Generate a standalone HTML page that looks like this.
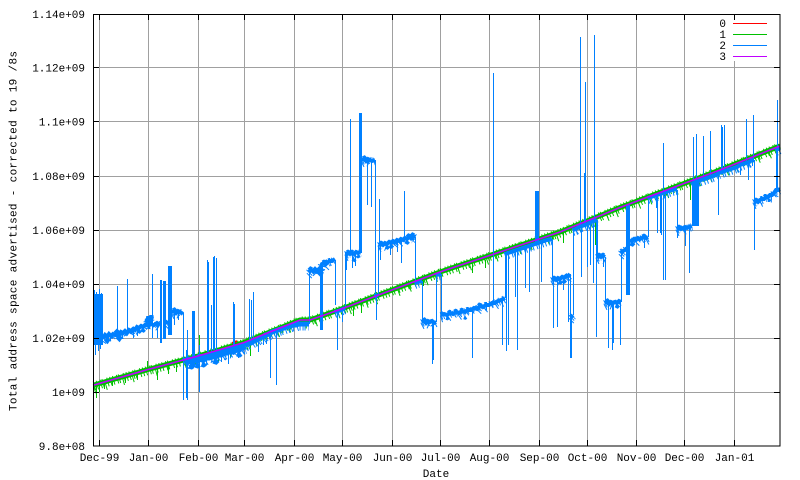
<!DOCTYPE html>
<html><head><meta charset="utf-8"><style>
html,body{margin:0;padding:0;background:#fff;}
svg{display:block;}
text{font-family:"Liberation Mono","DejaVu Sans Mono",monospace;font-size:11px;fill:#000;}
</style></head><body>
<svg width="800" height="480" viewBox="0 0 800 480" xmlns="http://www.w3.org/2000/svg">
<defs>
<path id="tr" d="M94,385 L100,383.3 L110,380.4 L120,377.5 L130,374.7 L140,371.8 L148,369.5 L160,366.3 L170,363.6 L180,360.9 L190,358.2 L198,356 L210,352.5 L220,349.6 L230,346.6 L244,342.5 L250,340.1 L260,336 L270,332 L280,328 L290,324 L300,320 L310,320 L320,316.5 L330,313 L340,309.5 L350,305.75 L360,302 L370,298.25 L380,294.5 L390,290.75 L400,287 L410,283.25 L420,279.5 L430,275.75 L440,272 L460,265.3 L480,258.7 L500,252 L520,245.3 L540,238.7 L560,232 L570,227.9 L580,223.8 L590,219.8 L600,215.7 L610,211.6 L620,207.5 L630,203.75 L640,200 L650,196.25 L660,192.5 L670,188.75 L680,185 L690,181.25 L700,177.5 L710,173.75 L720,170 L730,166 L740,162 L750,158 L760,154 L770,150 L780,146"/>
<path id="bA1" d="M185,362 L188,360 L191,361 L194,359 L197,360 L200,358 L203,359 L206,357 L209,357 L212,355 L215,356 L218,353 L221,354 L224,352 L227,352 L230,350 L233,351 L236,348 L239,349 L242,347 L245,346"/>
<path id="bA2" d="M245,346 L248,343 L251,343 L254,341 L257,340 L260,338 L263,337 L266,335 L269,334 L272,332 L275,331 L278,330 L281,329 L284,328 L287,327 L290,326 L293,325 L296,325 L299,324 L302,324 L305,324 L309,324"/>
<path id="bT" d="M335,312 L338,311 L341,310 L345,308 M375,296 L378,295 M415,283 L418,282 L422,281 M436,275 L441,274 M505,254 L508,253 L511,252 L514,251 L517,250 L520,249 L523,248 L526,247 L529,246 L532,245 L535,244 L538,243 L541,242 L544,241 L547,240 L552,239 M573,230 L576,229 L579,227 L582,226 L585,225 L588,224 L591,222 L594,221 L597,220 M648,198 L651,197 L654,196 L657,195 L660,194 L663,193 L666,192 L669,191 L672,190 L677,189 M692,184 L695,182 L698,181 L701,180 L704,179 L707,178 L710,177 L713,176 L716,175 L719,173 L722,172 L725,171 L728,170 L731,169 L734,168 L737,167 L740,165 L743,164 L746,163 L749,162 L752,160 L754,160 M776,150 L780,148"/>
<path id="bB" d="M103,338 L105,335 L107,337 L109,334 L111,336 L113,334 L115,335 L117,333 L119,335 L121,332 L123,333 L125,331 L127,333 L129,330 L131,331 L133,329 L135,330 L137,327 L139,328 L141,326 L143,327 L145,325 L147,325 L148,318 L150,318 L151,324 L154,325 L157,323 L160,325 M166,323 L168,321 M172,312 L174,311 L176,313 L178,311 L180,312 L183,314 M309,272 L311,270 L313,271 L315,269 L317,271 L319,269 L320,270 L322,264 L324,263 L326,264 L328,262 L330,261 L332,261 L335,259 M346,254 L348,253 L350,254 L352,253 L354,254 L356,252 L358,253 L360,252 M362,160 L364,159 L366,161 L368,159 L370,160 L372,161 L375,160 M379,245 L381,244 L383,245 L385,243 L387,244 L389,242 L391,243 L393,241 L395,242 L397,240 L399,241 L401,239 L403,240 L405,238 L407,239 L409,237 L411,238 L413,236 L415,237 M422,322 L424,321 L426,323 L428,321 L430,322 L432,321 L434,323 L436,322 M441,315 L444,314 L447,315 L450,313 L453,314 L456,312 L459,313 L462,311 L465,312 L468,310 L471,310 L474,308 L477,309 L480,306 L483,307 L486,305 L489,305 L492,303 L495,303 L498,301 L501,300 L505,298 M552,280 L554,279 L556,280 L558,278 L560,279 L562,277 L564,278 L566,276 L568,276 L570,274 M571,317 L573,315 M597,257 L599,256 L601,257 L603,256 L605,257 M605,303 L607,302 L609,304 L611,302 L613,303 L615,302 L617,303 L619,301 L621,302 M621,253 L623,251 L625,250 L627,248 M630,240 L632,241 L634,239 L636,240 L638,238 L640,239 L642,238 L644,237 L646,238 L648,237 M677,229 L679,228 L681,229 L683,228 L685,227 L687,228 L689,227 L692,226 M754,202 L756,201 L758,202 L760,200 L762,199 L764,199 L766,197 L768,197 L770,195 L772,195 L774,193 L776,190 L778,190 L780,189"/>
</defs>
<rect x="0" y="0" width="800" height="480" fill="#fff"/>
<!-- grid -->
<g stroke="#a0a0a0" stroke-width="1" shape-rendering="crispEdges" fill="none">
<path d="M93,67.5H780 M93,121.5H780 M93,176.5H780 M93,230.5H780 M93,284.5H780 M93,338.5H780 M93,392.5H780"/>
<path d="M99.5,14V446 M148.5,14V446 M198.5,14V446 M244.5,14V446 M294.5,14V446 M342.5,14V446 M392.5,14V446 M440.5,14V446 M489.5,14V446 M539.5,14V446 M587.5,14V446 M636.5,14V446 M684.5,14V446 M734.5,14V446"/>
</g>
<!-- green -->
<use href="#tr" fill="none" stroke="#00c000" stroke-width="5"/>
<use href="#tr" transform="translate(0,1)" fill="none" stroke="#00c000" stroke-width="9" stroke-dasharray="1 2 1 3 1 1 1 4 1 2"/>
<use href="#tr" transform="translate(0,4)" fill="none" stroke="#00c000" stroke-width="9" stroke-dasharray="1 11 1 17 1 9 1 23"/>
<path fill="none" stroke="#00c000" stroke-width="1" shape-rendering="crispEdges" d="M96.5,386V398 M99.5,385V392 M104.5,383V389 M112.5,381V386 M125.5,378V383 M137.5,374V380 M147.5,369V361 M157.5,369V380 M168.5,366V374 M176.5,363V372 M190.5,361V367 M199.5,355V335 M218.5,352V362 M230.5,349V358 M250.5,342V356 M320.5,318V330 M353.5,307V316 M361.5,304V313 M423.5,281V286 M472.5,264V273 M485.5,260V268 M552.5,237V262 M563.5,233V243 M595.5,222V245 M596.5,222V240 M661.5,194V200 M690.5,183V200"/>
<path fill="none" stroke="#ff0000" stroke-width="2" d="M232,343 L237,341"/>
<!-- blue on-trend -->
<g fill="none" stroke="#0080ff">
<use href="#bA1" stroke-width="7"/>
<use href="#bA1" transform="translate(0,2)" stroke-width="12" stroke-dasharray="1 1 1 3 1 2 1 1"/>
<use href="#bA2" stroke-width="5"/>
<use href="#bA2" transform="translate(0,2)" stroke-width="9" stroke-dasharray="1 2 1 1 1 3 1 2"/>
<use href="#bT" stroke-width="4"/>
<use href="#bT" transform="translate(0,2)" stroke-width="8" stroke-dasharray="1 2 1 3 1 1 1 3"/>
<use href="#bB" stroke-width="4"/>
<use href="#bB" transform="translate(0,1)" stroke-width="8" stroke-dasharray="1 1 1 3 1 2 1 4"/>
<use href="#bB" transform="translate(0,4)" stroke-width="7" stroke-dasharray="1 7 1 11 1 5 1 15"/>
</g>
<!-- blue blocks -->
<g fill="#0080ff" shape-rendering="crispEdges">
<rect x="94" y="294" width="9" height="51"/>
<rect x="160" y="280" width="2" height="63"/>
<rect x="163" y="281" width="3" height="58"/>
<rect x="168" y="266" width="4" height="69"/>
<rect x="192" y="311" width="3" height="56"/>
<rect x="320" y="264" width="3" height="66"/>
<rect x="359" y="113" width="3" height="140"/>
<rect x="535" y="191" width="4" height="53"/>
<rect x="626" y="205" width="4" height="90"/>
<rect x="693" y="180" width="6" height="46"/>
</g>
<!-- blue spikes -->
<path fill="none" stroke="#0080ff" stroke-width="1" shape-rendering="crispEdges" d="M94.5,290V296 M96.5,292V296 M99.5,289V296 M101.5,293V296 M95.5,345V355 M98.5,345V351 M100.5,345V349
M110.5,336V341 M117.5,334V286 M119.5,335V341 M127.5,333V279 M133.5,329V338 M137.5,328V336 M122.5,332V339 M108.5,336V342
M147.5,325V316 M152.5,324V274 M152.5,324V338 M157.5,323V338
M174.5,312V325 M178.5,312V320 M183.5,313V400 M187.5,330V400 M186.5,350V398
M199.5,345V392 M203.5,358V366 M221.5,354V362 M228.5,352V364 M238.5,348V358
M207.5,352V260 M208.5,352V262 M211.5,352V305 M213.5,350V257 M214.5,350V256 M216.5,350V258
M233.5,348V302 M234.5,348V304 M249.5,344V299 M251.5,343V300 M253.5,342V292
M258.5,340V352 M263.5,337V345 M266.5,335V344 M270.5,333V378 M276.5,331V385
M309.5,324V271 M335.5,260V305 M337.5,311V350 M342.5,310V322
M345.5,308V253 M346.5,254V270 M352.5,254V268 M355.5,253V266 M350.5,254V119
M367.5,160V205 M371.5,161V207 M375.5,160V294 M376.5,295V320 M378.5,295V245 M379.5,245V199 M380.5,245V260
M390.5,243V255 M397.5,241V252 M401.5,240V263 M404.5,239V191
M415.5,237V283 M422.5,281V322 M432.5,321V364 M433.5,322V360 M436.5,322V274 M441.5,274V315
M472.5,309V358 M493.5,303V73 M502.5,300V345 M505.5,298V254 M506.5,253V351 M508.5,253V345
M515.5,251V297 M517.5,250V350 M525.5,247V288 M529.5,246V292
M541.5,242V282 M552.5,239V280 M553.5,279V328 M557.5,279V327 M563.5,278V290 M568.5,276V322 M570.5,274V358 M571.5,317V358 M573.5,315V230
M580.5,226V37 M581.5,226V277 M584.5,225V173 M585.5,225V82 M587.5,224V267 M590.5,223V265 M593.5,222V283 M594.5,222V35 M596.5,220V337 M597.5,220V257
M603.5,257V267 M605.5,257V303 M608.5,303V348 M612.5,302V350 M613.5,302V343 M620.5,301V345 M621.5,302V253
M644.5,237V248 M648.5,237V198
M656.5,196V208 M657.5,196V233 M660.5,194V233 M661.5,194V235 M663.5,193V143 M663.5,193V280 M665.5,192V280
M677.5,190V238 M685.5,227V246 M689.5,227V273 M692.5,226V184
M693.5,180V137 M696.5,180V134 M703.5,179V136 M710.5,177V131
M718.5,174V215 M721.5,173V125 M722.5,173V127 M724.5,172V125
M740.5,165V175 M746.5,163V119 M748.5,162V180 M753.5,160V115 M754.5,160V250
M776.5,190V149 M777.5,189V100"/>
<!-- magenta trend -->
<use href="#tr" fill="none" stroke="#c000ff" stroke-width="1.6"/>
<!-- legend -->
<rect x="716" y="17" width="57" height="44" fill="#fff"/>
<g stroke-width="1" shape-rendering="crispEdges">
<path stroke="#ff0000" d="M733,23.5H767"/>
<path stroke="#00c000" d="M733,34.5H767"/>
<path stroke="#0080ff" d="M733,45.5H767"/>
<path stroke="#c000ff" d="M733,56.5H767"/>
</g>
<text x="726" y="27" text-anchor="end">0</text>
<text x="726" y="38" text-anchor="end">1</text>
<text x="726" y="49" text-anchor="end">2</text>
<text x="726" y="60" text-anchor="end">3</text>
<!-- border and ticks -->
<g stroke="#000" stroke-width="1" fill="none" shape-rendering="crispEdges">
<rect x="93.5" y="14.5" width="686.5" height="431.5"/>
<path d="M93,67.5H99 M93,121.5H99 M93,176.5H99 M93,230.5H99 M93,284.5H99 M93,338.5H99 M93,392.5H99
M774,67.5H780 M774,121.5H780 M774,176.5H780 M774,230.5H780 M774,284.5H780 M774,338.5H780 M774,392.5H780"/>
<path d="M99.5,446V440 M148.5,446V440 M198.5,446V440 M244.5,446V440 M294.5,446V440 M342.5,446V440 M392.5,446V440 M440.5,446V440 M489.5,446V440 M539.5,446V440 M587.5,446V440 M636.5,446V440 M684.5,446V440 M734.5,446V440
M99.5,14V20 M148.5,14V20 M198.5,14V20 M244.5,14V20 M294.5,14V20 M342.5,14V20 M392.5,14V20 M440.5,14V20 M489.5,14V20 M539.5,14V20 M587.5,14V20 M636.5,14V20 M684.5,14V20 M734.5,14V20"/>
</g>
<!-- y tick labels -->
<g text-anchor="end">
<text x="85" y="18">1.14e+09</text>
<text x="85" y="71.5">1.12e+09</text>
<text x="85" y="125.5">1.1e+09</text>
<text x="85" y="180">1.08e+09</text>
<text x="85" y="234">1.06e+09</text>
<text x="85" y="288">1.04e+09</text>
<text x="85" y="342">1.02e+09</text>
<text x="85" y="396">1e+09</text>
<text x="85" y="450">9.8e+08</text>
</g>
<!-- x tick labels -->
<g text-anchor="middle">
<text x="99.5" y="461">Dec-99</text>
<text x="148.5" y="461">Jan-00</text>
<text x="198.5" y="461">Feb-00</text>
<text x="244.5" y="461">Mar-00</text>
<text x="294.5" y="461">Apr-00</text>
<text x="342.5" y="461">May-00</text>
<text x="392.5" y="461">Jun-00</text>
<text x="440.5" y="461">Jul-00</text>
<text x="489.5" y="461">Aug-00</text>
<text x="539.5" y="461">Sep-00</text>
<text x="587.5" y="461">Oct-00</text>
<text x="636.5" y="461">Nov-00</text>
<text x="684.5" y="461">Dec-00</text>
<text x="734.5" y="461">Jan-01</text>
<text x="436" y="477">Date</text>
</g>
<text transform="translate(16.5,231) rotate(-90)" text-anchor="middle" textLength="360" lengthAdjust="spacing">Total address space advertised - corrected to 19 /8s</text>
</svg>
</body></html>
